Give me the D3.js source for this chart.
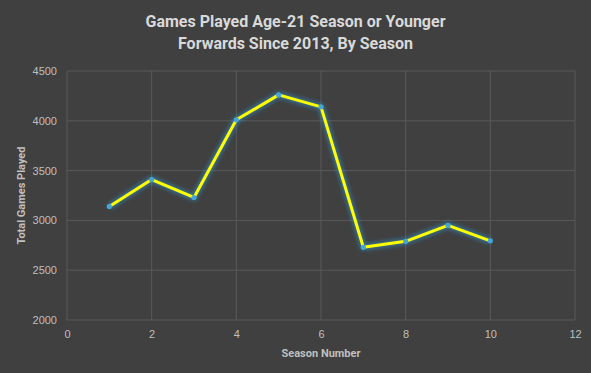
<!DOCTYPE html>
<html>
<head>
<meta charset="utf-8">
<script src="https://cdn.jsdelivr.net/npm/d3@7"></script>
<style>
  body { margin: 0; background: #404040; }
  svg { display: block; }
</style>
</head>
<body>
<div id="chart"></div>
<script>
// data
const seasons = [1, 2, 3, 4, 5, 6, 7, 8, 9, 10];
const gamesPlayed = [3140, 3410, 3230, 4010, 4260, 4140, 2730, 2790, 2950, 2795];
const xTicks = [0, 2, 4, 6, 8, 10, 12];
const yTicks = [2000, 2500, 3000, 3500, 4000, 4500];
const titleLines = ["Games Played Age-21 Season or Younger", "Forwards Since 2013, By Season"];

const W = 591, H = 373;
const margin = {top: 71, right: 16, bottom: 53, left: 67};
const width = W - margin.left - margin.right,
    height = H - margin.top - margin.bottom;

const svg = d3.select("#chart")
    .append("svg")
    .attr("width", W)
    .attr("height", H);

svg.append("rect").attr("width", W).attr("height", H).attr("fill", "#404040");

// soft glow under the line
const defs = svg.append("defs");
const glow = defs.append("filter").attr("id", "glow")
    .attr("x", "-20%").attr("y", "-20%").attr("width", "140%").attr("height", "140%");
glow.append("feGaussianBlur").attr("stdDeviation", 2.2);

const g = svg.append("g")
    .attr("transform", "translate(" + margin.left + "," + margin.top + ")");

const x = d3.scaleLinear().domain([0, 12]).range([0, width]);
const y = d3.scaleLinear().domain([2000, 4500]).range([height, 0]);

// gridlines
g.append("g")
    .selectAll("line")
    .data(yTicks)
    .join("line")
    .attr("x1", 0).attr("x2", width)
    .attr("y1", d => y(d)).attr("y2", d => y(d))
    .attr("stroke", "#595959").attr("stroke-width", 1);
g.append("g")
    .selectAll("line")
    .data(xTicks)
    .join("line")
    .attr("x1", d => x(d)).attr("x2", d => x(d))
    .attr("y1", 0).attr("y2", height)
    .attr("stroke", "#595959").attr("stroke-width", 1);

// axes
const xAxis = g.append("g")
    .attr("transform", "translate(0," + height + ")")
    .call(d3.axisBottom(x).tickValues(xTicks).tickSize(0).tickPadding(10));
const yAxis = g.append("g")
    .call(d3.axisLeft(y).tickValues(yTicks).tickFormat(d3.format("d")).tickSize(0).tickPadding(10));
[xAxis, yAxis].forEach(a => {
  a.select(".domain").remove();
  a.selectAll("text")
      .attr("fill", "#bfbfbf")
      .attr("font-family", "Liberation Sans, Arial, sans-serif")
      .attr("font-size", 11);
});

// line
const line = d3.line()
    .x((d, i) => x(seasons[i]))
    .y(d => y(d));

g.append("path")
    .datum(gamesPlayed)
    .attr("fill", "none")
    .attr("stroke", "#2f9fe0")
    .attr("stroke-opacity", 0.55)
    .attr("stroke-width", 6)
    .attr("stroke-linejoin", "round")
    .attr("filter", "url(#glow)")
    .attr("d", line);

g.append("path")
    .datum(gamesPlayed)
    .attr("fill", "none")
    .attr("stroke", "#ffff00")
    .attr("stroke-width", 3)
    .attr("stroke-linejoin", "round")
    .attr("d", line);

g.selectAll(".dot")
    .data(gamesPlayed)
    .join("circle")
    .attr("class", "dot")
    .attr("cx", (d, i) => x(seasons[i]))
    .attr("cy", d => y(d))
    .attr("r", 2.6)
    .attr("fill", "#45a6d6");

// title
svg.append("g")
    .selectAll("text")
    .data(titleLines)
    .join("text")
    .attr("x", W / 2)
    .attr("y", 27 + 0)
    .attr("dy", (d, i) => i * 22)
    .attr("text-anchor", "middle")
    .attr("font-family", "Roboto, sans-serif")
    .attr("font-weight", "bold")
    .attr("font-size", 16)
    .attr("fill", "#d9d9d9")
    .text(d => d);

// axis titles
svg.append("text")
    .attr("x", margin.left + width / 2)
    .attr("y", 357)
    .attr("text-anchor", "middle")
    .attr("font-family", "Roboto, sans-serif")
    .attr("font-weight", "bold")
    .attr("font-size", 11)
    .attr("fill", "#bfbfbf")
    .text("Season Number");

svg.append("text")
    .attr("transform", "translate(25," + (margin.top + height / 2) + ") rotate(-90)")
    .attr("text-anchor", "middle")
    .attr("font-family", "Roboto, sans-serif")
    .attr("font-weight", "bold")
    .attr("font-size", 11)
    .attr("fill", "#bfbfbf")
    .text("Total Games Played");
</script>
</body>
</html>
